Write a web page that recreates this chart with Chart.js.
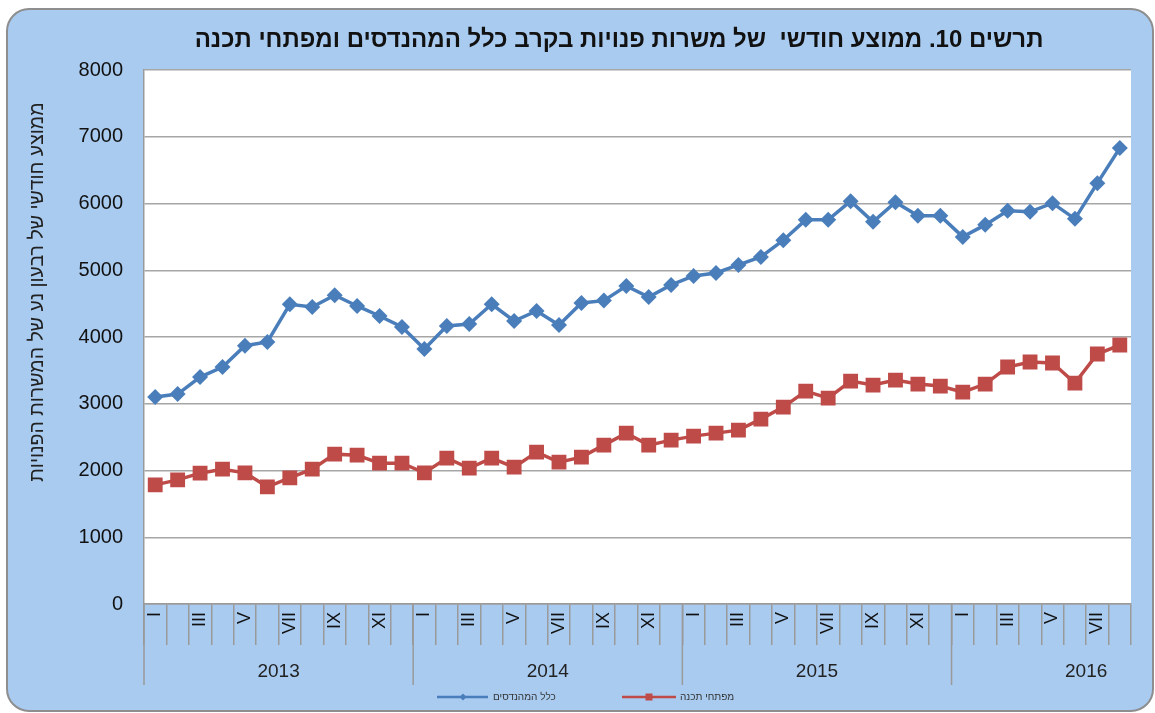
<!DOCTYPE html>
<html lang="he">
<head>
<meta charset="UTF-8">
<title>תרשים 10</title>
<script src="https://cdn.jsdelivr.net/npm/chart.js"></script>
<style>
  html, body { margin: 0; padding: 0; background: #fff; overflow: hidden; }
  #wrap { width: 1155px; height: 713px; position: relative; }
</style>
</head>
<body>
<div id="wrap"><canvas id="chart"></canvas></div>
<script>
// data (monthly, Jan 2013 - Aug 2016)
const years = ['2013', '2014', '2015', '2016'];
const monthTicks = ['I', '', 'III', '', 'V', '', 'VII', '', 'IX', '', 'XI', ''];
const seriesNames = ['כלל המהנדסים', 'מפתחי תכנה'];

const allEngineers = [
  3100, 3145, 3400, 3550, 3870, 3925, 4490, 4450, 4625, 4465, 4315, 4150,
  3820, 4165, 4195, 4490, 4240, 4390, 4180, 4510, 4545, 4765, 4600, 4780,
  4915, 4960, 5080, 5200, 5450, 5755, 5755, 6035, 5725, 6020, 5815, 5815,
  5500, 5680, 5890, 5875, 6005, 5770, 6305, 6830
];
const softwareDevs = [
  1785, 1860, 1960, 2020, 1965, 1755, 1890, 2020, 2245, 2230, 2110, 2110,
  1965, 2185, 2035, 2185, 2050, 2275, 2125, 2200, 2380, 2560, 2380, 2455,
  2515, 2560, 2605, 2770, 2950, 3190, 3085, 3340, 3280, 3355, 3295, 3265,
  3175, 3295, 3550, 3625, 3610, 3310, 3745, 3880
];

const months = years.flatMap(y => monthTicks.map((_, m) => (m + 1) + '/' + y)).slice(0, allEngineers.length);

const FONT = "'Liberation Sans', Arial, sans-serif";
const BLUE = '#4a7ebb';
const RED = '#be4b48';
const GRAY = '#9a9a9a';

const decor = {
  id: 'decor',
  beforeDraw(chart) {
    const ctx = chart.ctx, a = chart.chartArea;
    ctx.save();
    // rounded panel
    ctx.beginPath();
    ctx.roundRect(7, 9, 1146, 702, 22);
    ctx.fillStyle = '#a9cbf0';
    ctx.fill();
    ctx.lineWidth = 2;
    ctx.strokeStyle = '#8e8e8e';
    ctx.stroke();
    // white plot area
    ctx.fillStyle = '#fff';
    ctx.fillRect(a.left, a.top, a.right - a.left, a.bottom - a.top);
    ctx.restore();
  },
  afterDraw(chart) {
    const ctx = chart.ctx, a = chart.chartArea, xs = chart.scales.x;
    const w = xs.getPixelForValue(1) - xs.getPixelForValue(0);
    ctx.save();
    ctx.fillStyle = '#111';
    ctx.direction = 'rtl';

    // title
    ctx.font = 'bold 24px ' + FONT;
    ctx.textAlign = 'center';
    ctx.textBaseline = 'middle';
    ctx.fillText('תרשים 10. ממוצע חודשי  של משרות פנויות בקרב כלל המהנדסים ומפתחי תכנה', 619, 40);

    // y axis title
    ctx.save();
    ctx.translate(38, 292);
    ctx.rotate(-Math.PI / 2);
    ctx.font = '19.5px ' + FONT;
    ctx.fillStyle = '#222';
    ctx.fillText('ממוצע חודשי של רבעון נע של המשרות הפנויות', 0, 0);
    ctx.restore();

    // year separators and labels
    ctx.strokeStyle = GRAY;
    ctx.lineWidth = 1.5;
    ctx.font = '19px ' + FONT;
    ctx.fillStyle = '#222';
    years.forEach((y, k) => {
      const x0 = xs.getPixelForValue(12 * k) - w / 2;
      ctx.beginPath();
      ctx.moveTo(x0, a.bottom);
      ctx.lineTo(x0, 685);
      ctx.stroke();
      ctx.fillText(y, x0 + 6 * w, 672);
    });

    // legend
    const ly = 697;
    ctx.font = '10px ' + FONT;
    ctx.fillStyle = '#333';
    ctx.textAlign = 'left';
    ctx.lineWidth = 2.5;
    ctx.strokeStyle = BLUE;
    ctx.beginPath(); ctx.moveTo(437, ly); ctx.lineTo(488, ly); ctx.stroke();
    ctx.fillStyle = BLUE;
    ctx.beginPath();
    ctx.moveTo(463, ly - 3.5); ctx.lineTo(466.5, ly); ctx.lineTo(463, ly + 3.5); ctx.lineTo(459.5, ly);
    ctx.closePath(); ctx.fill();
    ctx.fillStyle = '#333';
    ctx.fillText(seriesNames[0], 493, ly);

    ctx.strokeStyle = RED;
    ctx.beginPath(); ctx.moveTo(622, ly); ctx.lineTo(676, ly); ctx.stroke();
    ctx.fillStyle = RED;
    ctx.fillRect(645.5, ly - 3.5, 7, 7);
    ctx.fillStyle = '#333';
    ctx.fillText(seriesNames[1], 680, ly);
    ctx.restore();
  }
};

new Chart(document.getElementById('chart'), {
  type: 'line',
  data: {
    labels: months,
    datasets: [
      {
        label: seriesNames[0],
        data: allEngineers,
        borderColor: BLUE,
        backgroundColor: BLUE,
        borderWidth: 3.5,
        pointStyle: 'rectRot',
        pointRadius: 8,
        pointBorderWidth: 0,
        tension: 0
      },
      {
        label: seriesNames[1],
        data: softwareDevs,
        borderColor: RED,
        backgroundColor: RED,
        borderWidth: 3.5,
        pointStyle: 'rect',
        pointRadius: 10.5,
        pointBorderWidth: 0,
        tension: 0
      }
    ]
  },
  options: {
    responsive: true,
    maintainAspectRatio: false,
    animation: false,
    layout: { padding: { left: 0, top: 70, right: 24, bottom: 0 } },
    plugins: {
      legend: { display: false },
      title: { display: false },
      tooltip: { enabled: false }
    },
    scales: {
      x: {
        type: 'category',
        offset: true,
        grid: { offset: true, drawOnChartArea: false, drawTicks: true, tickLength: 41, color: GRAY, lineWidth: 1.5 },
        border: { color: GRAY, width: 1.5 },
        ticks: {
          autoSkip: false,
          maxRotation: 90,
          minRotation: 90,
          padding: -33,
          color: '#111',
          font: { family: FONT, size: 18 },
          callback: (v, i) => monthTicks[i % 12]
        },
        afterFit: s => { s.height = 109; }
      },
      y: {
        min: 0,
        max: 8000,
        ticks: { stepSize: 1000, padding: 21, color: '#111', font: { family: FONT, size: 20 }, callback: v => String(v) },
        grid: { color: '#a6a6a6', lineWidth: 1.5, drawTicks: false },
        border: { color: GRAY, width: 1.5 },
        afterFit: s => { s.width = 144; }
      }
    }
  },
  plugins: [decor]
});
</script>
</body>
</html>
